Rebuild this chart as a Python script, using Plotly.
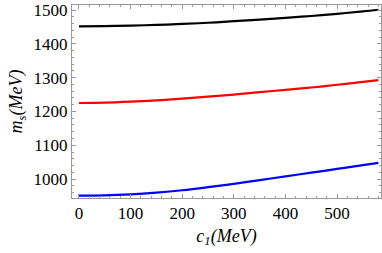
import plotly.graph_objects as go

c1 = [0, 50, 100, 150, 200, 250, 300, 350, 400, 450, 500, 550, 580]
m_black = [1452, 1452.5, 1454, 1456, 1459, 1462.5, 1467, 1472, 1477, 1482.5, 1489, 1496, 1501]
m_red = [1225, 1226, 1229, 1233, 1238, 1244, 1250, 1257, 1264, 1271, 1279, 1287.5, 1293]
m_blue = [951, 952, 955, 960, 967, 976, 986, 997, 1008, 1019, 1030, 1041, 1048]

font_family = "Liberation Serif"

fig = go.Figure()
for ys, col in [(m_black, "#000000"), (m_red, "#ff0000"), (m_blue, "#0000ff")]:
    fig.add_trace(go.Scatter(x=c1, y=ys, mode="lines", line=dict(color=col, width=2.2, shape="spline"),
                             showlegend=False, hoverinfo="skip"))

axis_common = dict(
    showgrid=False, zeroline=False, showline=True, linecolor="#999999", linewidth=1,
    mirror="allticks", ticks="inside", ticklen=4, tickcolor="#999999", tickwidth=1,
    tickfont=dict(family=font_family, size=17, color="#000000"),
    automargin=False,
)

fig.update_layout(
    width=382, height=253,
    margin=dict(l=72, r=1, t=5, b=55),
    paper_bgcolor="white", plot_bgcolor="white",
    font=dict(family=font_family, color="#000000"),
    hovermode=False,
    xaxis=dict(range=[-13.5, 585], dtick=100, tick0=0,
               minor=dict(dtick=20, ticks="inside", ticklen=2, tickcolor="#999999"),
               title=dict(text="<i>c<sub>1</sub>(MeV)</i>", font=dict(family=font_family, size=18), standoff=6),
               **axis_common),
    yaxis=dict(range=[944, 1515], dtick=100, tick0=1000,
               minor=dict(dtick=20, ticks="inside", ticklen=2, tickcolor="#999999"),
               title=dict(text="<i>m<sub>s</sub>(MeV)</i>", font=dict(family=font_family, size=18), standoff=6),
               **axis_common),
)

fig.write_html("out.html", config={"displayModeBar": False, "staticPlot": True},
               post_script="document.body.style.margin='0';document.body.style.overflow='hidden';")
